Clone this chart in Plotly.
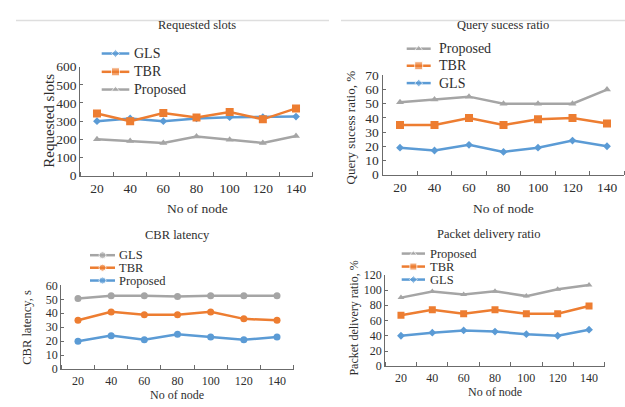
import plotly.graph_objects as go

W, H = 625, 407
nodes = [20, 40, 60, 80, 100, 120, 140]

# Requested slots
rs_gls = [300, 315, 300, 315, 322, 322, 325]
rs_tbr = [342, 300, 345, 320, 350, 310, 370]
rs_prop = [200, 190, 180, 215, 198, 180, 218]

# Query success ratio, %
qs_prop = [51, 53, 55, 50, 50, 50, 60]
qs_tbr = [35, 35, 40, 35, 39, 40, 36]
qs_gls = [19, 17, 21, 16, 19, 24, 20]

# CBR latency, s
cbr_gls = [50.5, 52.5, 52.5, 52, 52.5, 52.5, 52.5]
cbr_tbr = [35, 41, 39, 39, 41, 36, 35]
cbr_prop = [20, 24, 21, 25, 23, 21, 23]

# Packet delivery ratio, %
pdr_prop = [90, 98, 94, 98.5, 92, 101, 106.5]
pdr_tbr = [67, 74, 69, 74, 69, 69, 79]
pdr_gls = [40, 44, 47, 45.5, 42, 40, 48]

BLUE = "#5B9BD5"
ORANGE = "#ED7D31"
GRAY = "#A5A5A5"
AX = "#6b6b6b"
TXT = "#2e2e2e"
FONT = "Liberation Serif"


def px(x):
    return x / W


def py(y):
    return 1 - y / H


fig = go.Figure()

panels = [
    dict(ax="", x=(80.4, 312.6), y=(175, 62), yr=[0, 600], dt=100, fs=13.5, lfs=14,
         series=[("GLS", rs_gls, BLUE, "diamond", 6), ("TBR", rs_tbr, ORANGE, "square", 8),
                 ("Proposed", rs_prop, GRAY, "triangle-up", 7)],
         title="Requested slots", tpos=(197, 19), ytitle="Requested slots", ytfs=15, ytpos=(49, 118),
         xtpos=(197, 209), leg=(101.7, 129.3, 131.7, [48.3, 67.3, 85.7])),
    dict(ax="2", x=(382.75, 624.25), y=(174, 71), yr=[0, 70], dt=10, fs=13.5, lfs=14,
         series=[("Proposed", qs_prop, GRAY, "triangle-up", 7), ("TBR", qs_tbr, ORANGE, "square", 8),
                 ("GLS", qs_gls, BLUE, "diamond", 6)],
         title="Query sucess ratio", tpos=(503, 19), ytitle="Query sucess ratio, %", ytfs=13,
         ytpos=(350, 125), xtpos=(503, 209), leg=(406.7, 430.7, 437.3, [43.3, 61, 79])),
    dict(ax="3", x=(61.4, 293.6), y=(376, 289), yr=[0, 60], dt=10, fs=12, lfs=12.5,
         series=[("GLS", cbr_gls, GRAY, "circle", 7), ("TBR", cbr_tbr, ORANGE, "circle", 7),
                 ("Proposed", cbr_prop, BLUE, "circle", 7)],
         title="CBR latency", tpos=(177, 237), ytitle="CBR latency, s", ytfs=12.5, ytpos=(27.5, 332.5),
         xtpos=(177, 403), leg=(90, 115, 117.3, [257.7, 270.7, 284])),
    dict(ax="4", x=(385.3, 604.7), y=(373, 278), yr=[0, 120], dt=20, fs=12, lfs=12.5,
         series=[("Proposed", pdr_prop, GRAY, "triangle-up", 6), ("TBR", pdr_tbr, ORANGE, "square", 7),
                 ("GLS", pdr_gls, BLUE, "diamond", 6)],
         title="Packet delivery ratio", tpos=(488, 236), ytitle="Packet delivery ratio, %", ytfs=12,
         ytpos=(354.5, 323), xtpos=(495, 400), leg=(401.7, 425, 428.3, [256, 269.5, 283])),
]

annotations = []
layout = {}
for p in panels:
    xa = "x" + p["ax"]
    ya = "y" + p["ax"]
    for name, vals, col, sym, ms in p["series"]:
        fig.add_trace(go.Scatter(
            x=nodes, y=vals, name=name, mode="lines+markers", showlegend=False,
            line=dict(color=col, width=2.5), marker=dict(color=col, symbol=sym, size=ms),
            xaxis=xa, yaxis=ya))
    layout["xaxis" + p["ax"]] = dict(
        domain=[px(p["x"][0]), px(p["x"][1])], range=[10, 150], anchor=ya,
        tickmode="array", tickvals=nodes, ticks="", showgrid=False, zeroline=False,
        showline=True, linecolor=AX, linewidth=1.2,
        tickfont=dict(family=FONT, size=p["fs"], color=TXT),
        minor=dict(ticks="inside", tick0=10, dtick=20, ticklen=4, tickcolor=AX, showgrid=False),
        fixedrange=True)
    layout["yaxis" + p["ax"]] = dict(
        domain=[py(p["y"][0]), py(p["y"][1])], range=p["yr"], anchor=xa,
        dtick=p["dt"], tick0=0, ticks="inside", ticklen=3, tickcolor=AX,
        showgrid=False, zeroline=False, showline=True, linecolor=AX, linewidth=1.2,
        tickfont=dict(family=FONT, size=p["fs"], color=TXT), fixedrange=True)
    annotations.append(dict(text=p["title"], x=px(p["tpos"][0]), y=py(p["tpos"][1]),
                            xref="paper", yref="paper", showarrow=False,
                            xanchor="center", yanchor="middle",
                            font=dict(family=FONT, size=12.5, color=TXT)))
    annotations.append(dict(text=p["ytitle"], x=px(p["ytpos"][0]), y=py(p["ytpos"][1]),
                            xref="paper", yref="paper", showarrow=False, textangle=-90,
                            xanchor="center", yanchor="middle",
                            font=dict(family=FONT, size=p["ytfs"], color=TXT)))
    annotations.append(dict(text="No of node", x=px(p["xtpos"][0]), y=py(p["xtpos"][1]),
                            xref="paper", yref="paper", showarrow=False,
                            xanchor="center", yanchor="middle",
                            font=dict(family=FONT, size=p["fs"], color=TXT)))
    # legend entries (sample line + marker on a pixel overlay axis, text as annotation)
    lx0, lx1, tx, rows = p["leg"]
    for (name, vals, col, sym, ms), ry in zip(p["series"], rows):
        fig.add_trace(go.Scatter(
            x=[lx0, (lx0 + lx1) / 2, lx1], y=[ry, ry, ry], mode="lines+markers",
            line=dict(color=col, width=2.5), marker=dict(color=col, symbol=sym, size=[0, ms, 0]),
            xaxis="x5", yaxis="y5", showlegend=False, hoverinfo="skip"))
        annotations.append(dict(text=name, x=px(tx), y=py(ry), xref="paper", yref="paper",
                                showarrow=False, xanchor="left", yanchor="middle",
                                font=dict(family=FONT, size=p["lfs"], color=TXT)))

layout["xaxis5"] = dict(domain=[0, 1], range=[0, W], visible=False, fixedrange=True, anchor="y5")
layout["yaxis5"] = dict(domain=[0, 1], range=[H, 0], visible=False, fixedrange=True, anchor="x5")

shapes = [
    dict(type="line", xref="paper", yref="paper", x0=px(16), x1=px(329), y0=py(14), y1=py(14),
         line=dict(color="#dedede", width=1.5)),
    dict(type="line", xref="paper", yref="paper", x0=px(341), x1=1, y0=py(14), y1=py(14),
         line=dict(color="#dedede", width=1.5)),
]

fig.update_layout(
    width=W, height=H, margin=dict(l=0, r=0, t=0, b=0),
    paper_bgcolor="white", plot_bgcolor="rgba(0,0,0,0)", showlegend=False,
    annotations=annotations, shapes=shapes, **layout)

fig.write_html("out.html", config={"displayModeBar": False, "staticPlot": True},
               post_script="document.body.style.margin='0';")
